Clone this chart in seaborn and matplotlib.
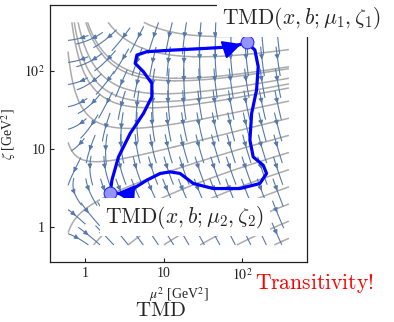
import numpy as np
import matplotlib
matplotlib.use("Agg")
import matplotlib.pyplot as plt
import seaborn as sns

# axes are log10(mu^2) and log10(zeta), both in GeV^2
tick_pos = [0, 1, 2]
tick_labels = ["1", "10", "$10^2$"]
x_lim = (-0.45, 2.83)
y_lim = (-0.45, 2.84)
field_x = (-0.22, 2.60)
field_y = (-0.23, 2.62)

# evolution field: arrows = (gamma part, -D)
d_x0 = -0.32
d_lin = 1.8
d_quad = 0.3
gamma_shift = 0.7

# null-evolution (gray) lines: seeds on the right edge and a few on the top edge
gray_seed_right_y = [-0.15, 0.07, 0.29, 0.51, 0.73, 0.95, 1.17, 1.39, 1.61, 1.83, 2.05, 2.27, 2.49]
gray_seed_top_x = [-0.17, -0.09, 0.01]

# where the stream arrows sit
arrow_seed_x = [-0.14, 0.06, 0.26, 0.46, 0.66, 0.86, 1.06, 1.26, 1.46, 1.66, 1.86, 2.06, 2.26, 2.46]
arrow_seed_y = [-0.12, 0.16, 0.44, 0.72, 1.00, 1.28, 1.56, 1.84, 2.12, 2.40]

# blue paths
path_up_x = [0.318, 0.340, 0.424, 0.573, 0.743, 0.850, 0.850, 0.743, 0.637, 0.659, 0.786, 1.125, 1.550, 1.889, 2.060]
path_up_y = [0.436, 0.599, 0.897, 1.197, 1.454, 1.667, 1.838, 1.987, 2.095, 2.201, 2.244, 2.265, 2.287, 2.308, 2.364]
path_down_x = [2.060, 2.166, 2.208, 2.187, 2.124, 2.102, 2.144, 2.271, 2.315, 2.229, 1.975, 1.634, 1.380,
               1.210, 1.083, 0.955, 0.786, 0.615, 0.446, 0.318]
path_down_y = [2.364, 2.265, 2.051, 1.753, 1.454, 1.112, 0.897, 0.791, 0.685, 0.556, 0.492, 0.492, 0.556,
               0.685, 0.705, 0.685, 0.599, 0.492, 0.428, 0.436]

sns.set_style("ticks")
plt.rcParams["mathtext.fontset"] = "stix"
plt.rcParams["font.family"] = ["Liberation Serif", "DejaVu Serif"]

fig = plt.figure(figsize=(3.94, 3.22), dpi=100)
ax = fig.add_axes([0.127, 0.186, 0.652, 0.798])

gx = np.linspace(field_x[0], field_x[1], 120)
gy = np.linspace(field_y[0], field_y[1], 120)
GX, GY = np.meshgrid(gx, gy)
uu = np.clip(GX - d_x0, 0, None)
D = d_lin * uu + d_quad * uu ** 2
P = GX - GY + gamma_shift
nrm = np.hypot(P, D)

# gray lines: integral curves perpendicular to the field
seeds = [(2.59, y) for y in gray_seed_right_y] + [(x, 2.61) for x in gray_seed_top_x]
ax.streamplot(gx, gy, D / nrm, P / nrm, start_points=seeds, broken_streamlines=False,
              arrowstyle="-", color="#ababab", linewidth=1.1, density=2, minlength=0.001, zorder=1)

# blue stream arrows, short segments with a head in the middle
SX, SY = np.meshgrid(arrow_seed_x, arrow_seed_y)
arrow_seeds = np.column_stack([SX.ravel(), SY.ravel()])
ax.streamplot(gx, gy, P / nrm, -D / nrm, start_points=arrow_seeds, broken_streamlines=False,
              color="#5479ad", linewidth=0.8, arrowsize=0.65, maxlength=0.16, minlength=0.001,
              density=2, zorder=2)

sns.lineplot(x=path_up_x, y=path_up_y, sort=False, estimator=None, color="blue", linewidth=2.3,
             solid_joinstyle="round", solid_capstyle="round", ax=ax, zorder=5)
sns.lineplot(x=path_down_x, y=path_down_y, sort=False, estimator=None, color="blue", linewidth=2.3,
             solid_joinstyle="round", solid_capstyle="round", ax=ax, zorder=5)
for px, py in [(path_up_x, path_up_y), (path_down_x, path_down_y)]:
    ax.annotate("", xy=(px[-1], py[-1]), xytext=(px[-2], py[-2]),
                arrowprops=dict(arrowstyle="-|>,head_length=0.8,head_width=0.4", color="blue",
                                lw=1.5, shrinkA=0, shrinkB=4, mutation_scale=14), zorder=6)

sns.scatterplot(x=[path_up_x[-1], path_up_x[0]], y=[path_up_y[-1], path_up_y[0]], s=85,
                color="#9494ff", edgecolor="#2a2aff", linewidth=0.8, ax=ax, zorder=7)

lab_kw = dict(fontsize=15.5, math_fontfamily="cm", transform=ax.transAxes, va="center", ha="left",
              clip_on=False, zorder=9,
              bbox=dict(boxstyle="square,pad=0.25", facecolor="white", edgecolor="none"))
ax.text(0.669, 0.949, r"$\mathrm{TMD}(x,b;\mu_1,\zeta_1)$", **lab_kw)
ax.text(0.214, 0.175, r"$\mathrm{TMD}(x,b;\mu_2,\zeta_2)$", **lab_kw)

ax.set_xlim(x_lim)
ax.set_ylim(y_lim)
ax.set_xticks(tick_pos)
ax.set_xticklabels(tick_labels)
ax.set_yticks(tick_pos)
ax.set_yticklabels(tick_labels)
ax.tick_params(direction="in", length=3, width=0.8, labelsize=10, colors="#222222")
for t in ax.get_xticklabels() + ax.get_yticklabels():
    t.set_math_fontfamily("stix")
for s in ax.spines.values():
    s.set_linewidth(0.9)
    s.set_color("#222222")

ax.set_xlabel(r"$\mu^2$ [GeV$^2$]", fontsize=10, labelpad=2)
ax.set_ylabel(r"$\zeta$ [GeV$^2$]", fontsize=10, labelpad=5)

fig.text(0.647, 0.121, r"$\mathrm{Transitivity!}$", color="red", fontsize=15.5, math_fontfamily="cm",
         ha="left", va="center")
fig.text(0.406, 0.002, r"$\mathrm{TMD}$", fontsize=15, math_fontfamily="cm", ha="center", va="bottom")

fig.savefig("out.png", dpi=100)
